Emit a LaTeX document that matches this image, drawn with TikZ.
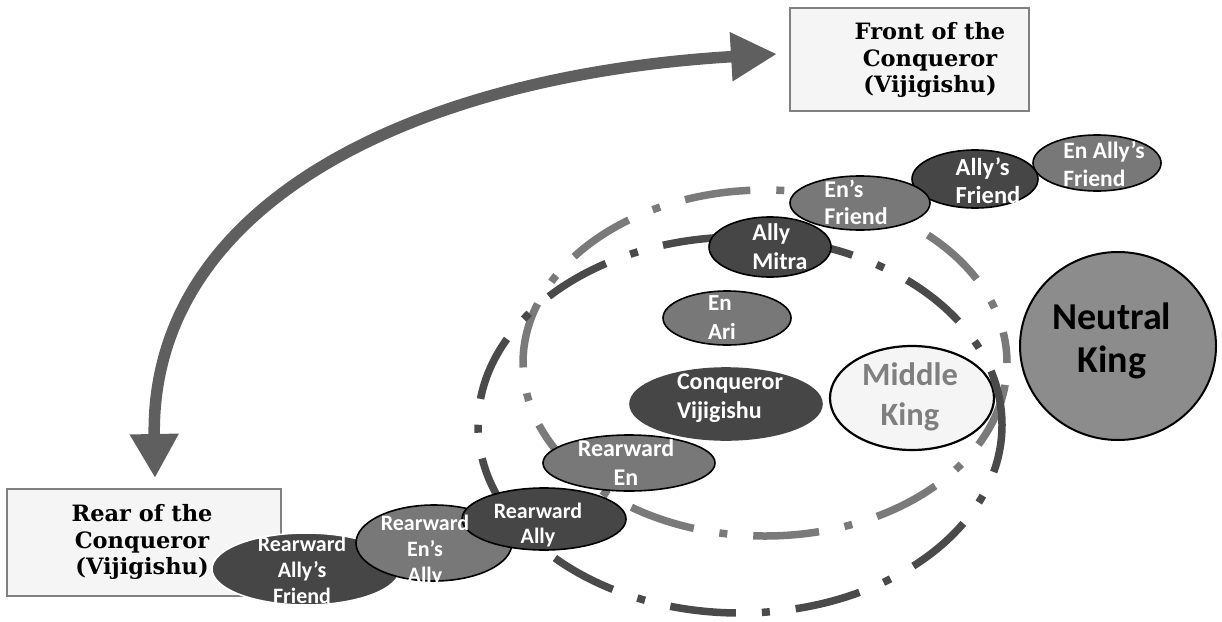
\documentclass[tikz,border=0pt]{standalone}
\usepackage{fontspec}
\usetikzlibrary{shapes.geometric,arrows.meta}
\newfontfamily\lblfont{Carlito}
\newfontfamily\boxfont{DejaVu Serif}
\definecolor{darkfill}{HTML}{464646}
\definecolor{midfill}{HTML}{787878}
\definecolor{ringdark}{HTML}{4A4A4A}
\definecolor{ringlight}{HTML}{7A7A7A}
\definecolor{arrowgray}{HTML}{5F5F5F}
\definecolor{paper}{HTML}{F5F5F5}
\definecolor{boxgray}{HTML}{808080}
\definecolor{neutralfill}{HTML}{8C8C8C}
\definecolor{middletext}{HTML}{7F7F7F}

\begin{document}
\begin{tikzpicture}[x=1pt,y=-1pt,
  blob/.style={ellipse, draw=black, line width=1.6pt, inner sep=0pt},
  darkblob/.style={blob, fill=darkfill},
  midblob/.style={blob, fill=midfill},
  lbl/.style={text=white, font=\lblfont\bfseries\fontsize{22}{26}\selectfont, align=center, inner sep=0pt},
  lblbig/.style={lbl, font=\lblfont\bfseries\fontsize{24}{29}\selectfont},
  lblleft/.style={lblbig, align=left},
  ring/.style={line width=7.5pt, dash pattern=on 66pt off 26pt on 8pt off 26pt},
  sidebox/.style={draw=boxgray, line width=1.5pt, fill=paper, inner sep=0pt},
  boxtext/.style={font=\boxfont\bfseries\fontsize{22.5}{26.5}\selectfont, align=center, inner sep=0pt}
]
\useasboundingbox (0,0) rectangle (1222,621);

% side boxes
\node[sidebox, anchor=north west, minimum width=239, minimum height=103] (front) at (789,7) {};
\node[boxtext] (fronttxt) at (930,60) {Front of the\\Conqueror\\(Vijigishu)};
\node[sidebox, anchor=north west, minimum width=274, minimum height=107] (rear) at (6,488) {};
\node[boxtext] (reartxt) at (142,542) {Rear of the\\Conqueror\\(Vijigishu)};

% sweeping double arrow between rear and front
\coordinate (rearTip) at (155,478);
\coordinate (frontTip) at (777,54);
\draw[arrowgray, line width=11.5pt, {Triangle[width=46pt,length=44pt]}-{Triangle[width=46pt,length=46pt]}]
  (rearTip) .. controls (150,200) and (420,75) .. (frontTip);

% kings
\node[blob, fill=neutralfill, line width=2pt, minimum width=196, minimum height=188] (neutral) at (1118,346) {};
\node[blob, fill=paper, line width=2.2pt, minimum width=164, minimum height=104] (middle) at (912,398) {};

% circles of states
\draw[ring, ringlight, dash phase=104pt] (765,363) ellipse [x radius=242, y radius=173];
\draw[ring, ringdark, dash phase=18pt] (740,425) ellipse [x radius=262, y radius=188];

% front states
\node[midblob, minimum width=128, minimum height=56] (enallyfr) at (1097,163) {};
\node[darkblob, minimum width=126, minimum height=58] (allyfr) at (975,179) {};
\node[midblob, minimum width=140, minimum height=54] (enfr) at (860,203) {};
\node[darkblob, minimum width=122, minimum height=60] (ally) at (770,247) {};
\node[midblob, minimum width=128, minimum height=54] (en) at (727,318) {};
\node[darkblob, draw=darkfill, minimum width=192, minimum height=72] (conq) at (726,404) {};

% rear states
\node[darkblob, draw=white, minimum width=188, minimum height=72] (rallyfr) at (306,569) {};
\node[midblob, minimum width=156, minimum height=76] (renally) at (434,543) {};
\node[darkblob, minimum width=164, minimum height=62] (rally) at (544,519) {};
\node[midblob, minimum width=172, minimum height=56] (ren) at (629,463) {};

% labels
\node[lblleft, font=\lblfont\bfseries\fontsize{23.5}{28}\selectfont] (enallyfrtxt) at (1104,164) {En Ally’s\\Friend};
\node[lblleft, font=\lblfont\bfseries\fontsize{24.5}{28}\selectfont] (allyfrtxt) at (988,181) {Ally’s\\Friend};
\node[lblleft, font=\lblfont\bfseries\fontsize{24}{27}\selectfont] (enfrtxt) at (856,202) {En’s\\Friend};
\node[lblleft] (allytxt) at (780,247) {Ally\\Mitra};
\node[lblleft, font=\lblfont\bfseries\fontsize{23}{29}\selectfont] (entxt) at (722,318) {En\\Ari};
\node[lblleft] (conqtxt) at (730,398) {Conqueror\\Vijigishu};
\node[lblbig] (rentxt) at (626,463) {Rearward\\En};
\node[lbl, font=\lblfont\bfseries\fontsize{22}{25}\selectfont] (rallytxt) at (538,525) {Rearward\\Ally};
\begin{scope}
  \clip (renally.west |- renally.north) rectangle (renally.east |- renally.south);
  \node[lbl] (renallytxt) at (425,551) {Rearward\\En’s\\Ally};
\end{scope}
\begin{scope}
  \clip (rallyfr.west |- rallyfr.north) rectangle (rallyfr.east |- rallyfr.south);
  \node[lbl] (rallyfrtxt) at (302,570) {Rearward\\Ally’s\\Friend};
\end{scope}
\node[lbl, text=middletext, font=\lblfont\bfseries\fontsize{32.5}{40}\selectfont] (middletxt) at (910,397) {Middle\\King};
\node[lbl, text=black, font=\lblfont\bfseries\fontsize{38}{43}\selectfont] (neutraltxt) at (1112,341) {Neutral\\King};
\end{tikzpicture}
\end{document}
